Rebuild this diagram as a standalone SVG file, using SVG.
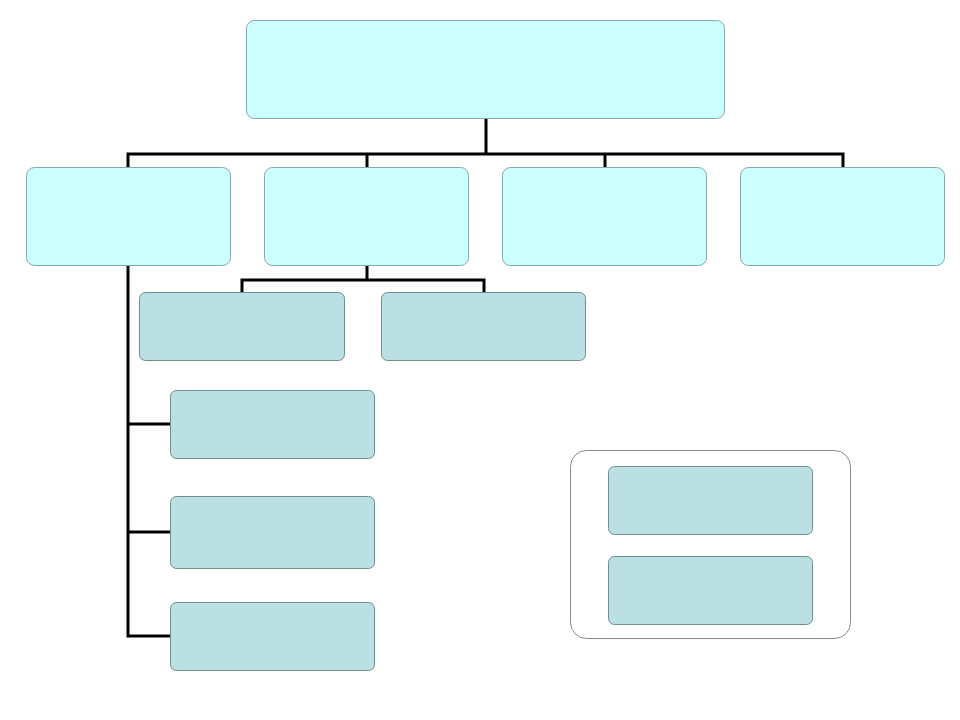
<svg xmlns="http://www.w3.org/2000/svg" width="960" height="720" viewBox="0 0 960 720">
<style>
.top{fill:#CCFFFF;stroke:#86A8AA;stroke-width:1}
.sub{fill:#BBE0E3;stroke:#6E8E90;stroke-width:1}
.cont{fill:#FFFFFF;stroke:#8A8A8A;stroke-width:1}
.conn{fill:none;stroke:#000000;stroke-width:3;stroke-linejoin:miter;stroke-linecap:butt}
</style>
<rect width="960" height="720" fill="#FFFFFF"/>
<g id="connectors">
<path class="conn" d="M486 118 V154 M128 167 V154 H843 V167 M367 154 V167 M605 154 V167"/>
<path class="conn" d="M367 265 V280 M242 292 V280 H484 V292"/>
<path class="conn" d="M128 265 V636 H170 M128 424 H170 M128 532 H170"/>
</g>
<g id="node-root"><rect class="top" x="246.5" y="20.5" width="478" height="98" rx="8"/></g>
<g id="node-a"><rect class="top" x="26.5" y="167.5" width="204" height="98" rx="8"/></g>
<g id="node-b"><rect class="top" x="264.5" y="167.5" width="204" height="98" rx="8"/></g>
<g id="node-c"><rect class="top" x="502.5" y="167.5" width="204" height="98" rx="8"/></g>
<g id="node-d"><rect class="top" x="740.5" y="167.5" width="204" height="98" rx="8"/></g>
<g id="node-b1"><rect class="sub" x="139.5" y="292.5" width="205" height="68" rx="6"/></g>
<g id="node-b2"><rect class="sub" x="381.5" y="292.5" width="204" height="68" rx="6"/></g>
<g id="node-a1"><rect class="sub" x="170.5" y="390.5" width="204" height="68" rx="6"/></g>
<g id="node-a2"><rect class="sub" x="170.5" y="496.5" width="204" height="72" rx="6"/></g>
<g id="node-a3"><rect class="sub" x="170.5" y="602.5" width="204" height="68" rx="6"/></g>
<g id="node-container"><rect class="cont" x="570.5" y="450.5" width="280" height="188" rx="16"/></g>
<g id="node-e1"><rect class="sub" x="608.5" y="466.5" width="204" height="68" rx="6"/></g>
<g id="node-e2"><rect class="sub" x="608.5" y="556.5" width="204" height="68" rx="6"/></g>
</svg>
